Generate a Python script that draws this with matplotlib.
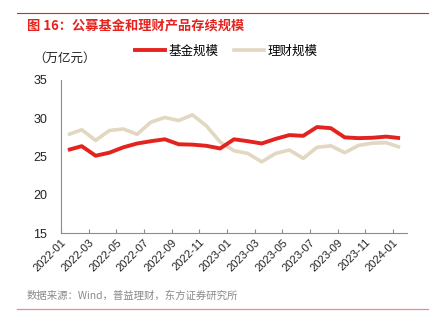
import matplotlib
matplotlib.use('Agg')
import matplotlib.pyplot as plt
from matplotlib.lines import Line2D

# Data (万亿元), monthly 2022-01 .. 2024-01
months = ['2022-01', '2022-02', '2022-03', '2022-04', '2022-05', '2022-06', '2022-07',
          '2022-08', '2022-09', '2022-10', '2022-11', '2022-12', '2023-01', '2023-02',
          '2023-03', '2023-04', '2023-05', '2023-06', '2023-07', '2023-08', '2023-09',
          '2023-10', '2023-11', '2023-12', '2024-01']
fund = [25.85, 26.35, 25.1, 25.5, 26.2, 26.7, 27.0, 27.25, 26.6, 26.55, 26.4, 26.05,
        27.25, 27.0, 26.7, 27.3, 27.8, 27.7, 28.85, 28.7, 27.5, 27.4, 27.45, 27.6, 27.4]
wealth = [27.85, 28.5, 27.1, 28.4, 28.6, 27.9, 29.5, 30.1, 29.7, 30.45, 29.0, 26.9,
          25.75, 25.4, 24.3, 25.4, 25.85, 24.75, 26.2, 26.4, 25.5, 26.45, 26.75, 26.8, 26.2]

RED = '#E5231E'
BEIGE = '#E2D8C1'
CJK = ['Noto Sans CJK SC', 'DejaVu Sans']
NUM = ['Liberation Sans', 'Noto Sans CJK SC']

fig = plt.figure(figsize=(4.32, 3.27), dpi=100)
ax = fig.add_axes([61 / 432, 1 - 233 / 327, 346 / 432, 153 / 327])

x = [i + 0.5 for i in range(len(months))]
ax.plot(x, wealth, color=BEIGE, lw=2.6, solid_capstyle='butt', zorder=2)
ax.plot(x, fund, color=RED, lw=2.8, solid_capstyle='butt', zorder=3)

ax.set_xlim(0, len(months))
ax.set_ylim(15, 35)
ax.set_yticks([15, 20, 25, 30, 35])
ax.set_xticks(range(0, len(months), 2))
ax.set_xticklabels(months[::2], rotation=45, ha='right', rotation_mode='anchor',
                   fontsize=8, family=NUM)
for lab in ax.get_yticklabels():
    lab.set_family(NUM)
    lab.set_fontsize(9)

for s in ['top', 'right']:
    ax.spines[s].set_visible(False)
for s in ['left', 'bottom']:
    ax.spines[s].set_color('#8c8c8c')
    ax.spines[s].set_linewidth(0.8)
ax.tick_params(axis='y', length=0, pad=10, colors='#222222')
ax.tick_params(axis='x', direction='in', length=3, width=0.8, color='#8c8c8c',
               pad=3, labelcolor='#222222')

# Title and frame lines
fig.add_artist(Line2D([17 / 432, 428 / 432], [1 - 13 / 327] * 2, color=RED, lw=0.8))
fig.text(27 / 432, 1 - 25 / 327, '图 16：公募基金和理财产品存续规模', color=RED,
         fontsize=9.5, fontweight='bold', family=CJK, va='center', ha='left')
fig.text(33 / 432, 1 - 58 / 327, '（万亿元）', fontsize=9, family=CJK,
         va='center', ha='left', color='#222222')

handles = [Line2D([], [], color=RED, lw=2.8), Line2D([], [], color=BEIGE, lw=2.6)]
fig.legend(handles, ['基金规模', '理财规模'], loc='center',
           bbox_to_anchor=(226 / 432, 1 - 51 / 327), ncol=2, frameon=False,
           prop={'family': CJK, 'size': 9}, handlelength=2.4, handletextpad=0.3,
           columnspacing=1.2)

fig.text(27 / 432, 1 - 296 / 327, '数据来源：Wind，普益理财，东方证券研究所',
         fontsize=7.5, family=CJK, color='#8a8a8a', va='center', ha='left')
fig.add_artist(Line2D([17 / 432, 428 / 432], [1 - 309 / 327] * 2, color='#EE8A88', lw=0.9))

fig.savefig('out.png', dpi=100)
